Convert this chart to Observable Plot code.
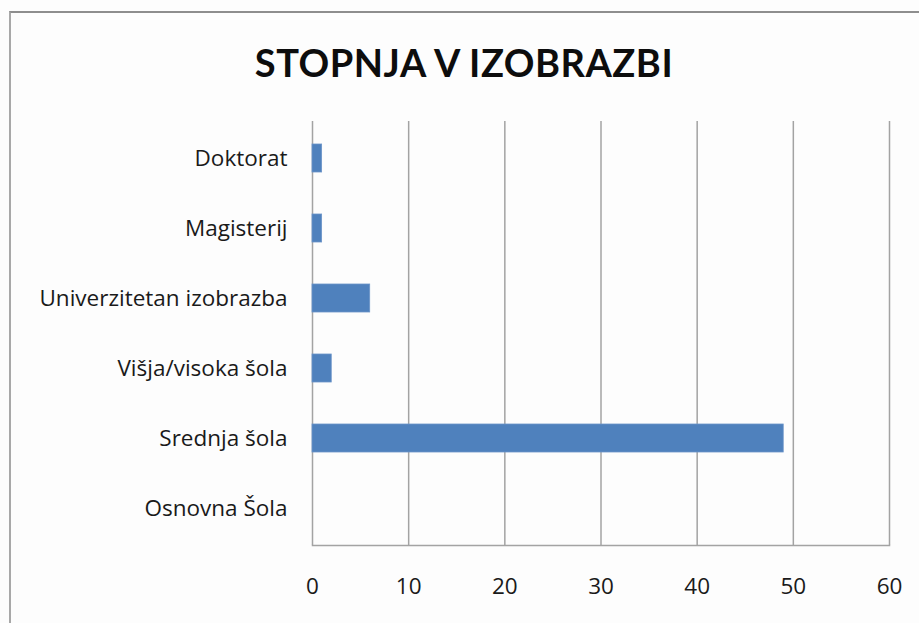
<!DOCTYPE html>
<html>
<head>
<meta charset="utf-8">
<script src="https://cdn.jsdelivr.net/npm/d3@7"></script>
<script src="https://cdn.jsdelivr.net/npm/@observablehq/plot@0.6"></script>
<style>
  html, body { margin: 0; padding: 0; background: #ffffff; }
  #wrap { position: relative; width: 919px; height: 623px; background: #fdfdfd; overflow: hidden; }
  #border { position: absolute; left: 9px; top: 11px; width: 930px; height: 640px;
            border-top: 2px solid #8e8e8e; border-left: 2px solid #a8a8a8; }
  #title { position: absolute; left: 9px; right: 0; top: 43px; margin: 0; text-align: center;
           font-family: Lato, sans-serif; font-weight: 700; font-size: 38px; letter-spacing: 0.5px;
           line-height: 1; color: #0d0d0d; }
  #chart { position: absolute; left: 0; top: 100px; }
</style>
</head>
<body>
<div id="wrap">
  <div id="border"></div>
  <h1 id="title">STOPNJA V IZOBRAZBI</h1>
  <div id="chart"></div>
</div>
<script>
const categories = ["Doktorat", "Magisterij", "Univerzitetan izobrazba", "Višja/visoka šola", "Srednja šola", "Osnovna Šola"];
const values = [1, 1, 6, 2, 49, 0];
const xTicks = [0, 10, 20, 30, 40, 50, 60];

const data = categories.map((c, i) => ({cat: c, value: values[i]}));

const chart = Plot.plot({
  width: 919,
  height: 523,
  marginTop: 21,
  marginBottom: 78,
  marginLeft: 312,
  marginRight: 30,
  style: {fontFamily: "'Open Sans', sans-serif", fontSize: "22.5px", color: "#1a1a1a", background: "transparent"},
  x: {domain: [0, 60], ticks: xTicks},
  y: {domain: categories, paddingInner: 0.6, paddingOuter: 0.3},
  marks: [
    Plot.ruleX(xTicks, {stroke: "#a3a3a3", strokeWidth: 1.5, strokeOpacity: 1}),
    Plot.frame({anchor: "bottom", stroke: "#a3a3a3", strokeWidth: 1.5}),
    Plot.barX(data, {x: "value", y: "cat", fill: "#4f81bd", stroke: "#6b94c8", strokeWidth: 0.8}),
    Plot.axisX({ticks: xTicks, tickSize: 0, tickPadding: 33, label: null, fontSize: 22.5}),
    Plot.axisY({tickSize: 0, tickPadding: 25, label: null, fontSize: 22.5})
  ]
});
document.getElementById("chart").appendChild(chart);
</script>
</body>
</html>
